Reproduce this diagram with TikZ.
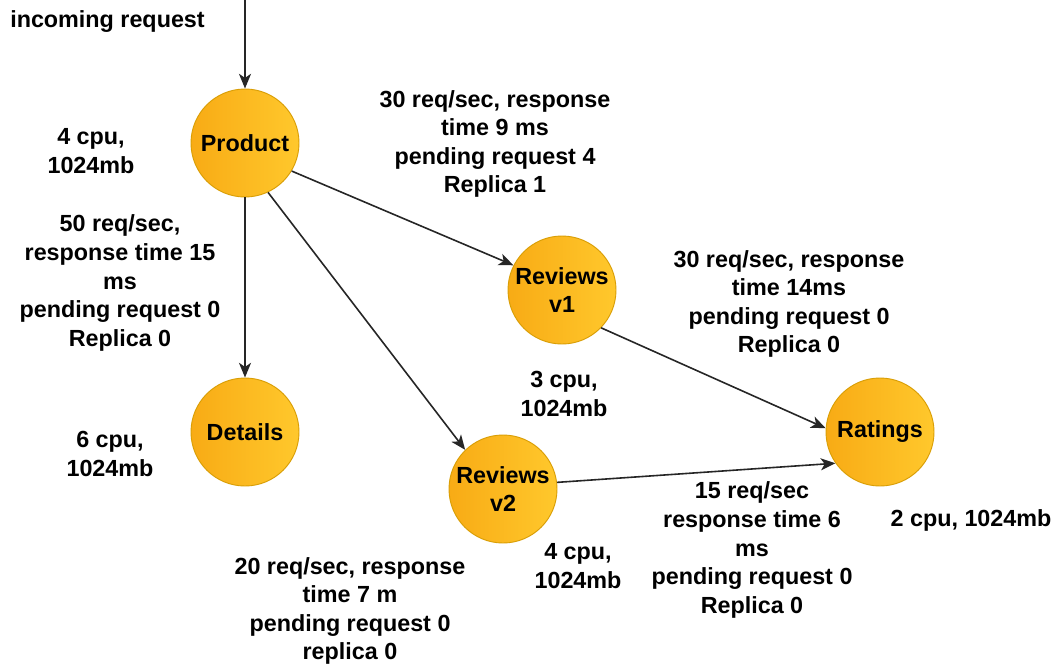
\documentclass[tikz,border=0pt]{standalone}
\usepackage{fontspec}
\setmainfont{Liberation Sans}
\usetikzlibrary{arrows.meta}
\definecolor{svcfillA}{HTML}{F8AB15}
\definecolor{svcfillB}{HTML}{FFC82C}
\definecolor{svcline}{HTML}{D99E05}
\begin{document}
\begin{tikzpicture}[x=0.75pt,y=-0.75pt,
  svc/.style={circle, minimum size=81pt, inner sep=0pt, draw=svcline, line width=0.7pt,
    left color=svcfillA, right color=svcfillB,
    font=\fontsize{17.5}{21}\selectfont\bfseries, align=center},
  lbl/.style={font=\fontsize{17.5}{21.4}\selectfont\bfseries, align=center, inner sep=0pt},
  flow/.style={-{Stealth[length=11pt,width=9pt,inset=3pt]}, line width=1.2pt, black!85}]
\useasboundingbox (0,0) rectangle (1056,664);

% services
\node[svc] (product) at (245,143) {Product};
\node[svc] (details) at (245,432) {Details};
\node[svc] (rv1) at (562,290) {Reviews\\v1};
\node[svc] (rv2) at (503,489) {Reviews\\v2};
\node[svc] (ratings) at (880,432) {Ratings};

% entry point
\coordinate (entry) at (245,0);
\node[lbl, anchor=west] (inlbl) at (10,22) {incoming request};

% calls between services
\draw[flow] (entry) -- (product.north);
\draw[flow] (product.south) -- (details.north);
\draw[flow] (product.-31) -- (rv1.153);
\draw[flow] (product.-65) -- (rv2.134);
\draw[flow] (rv1.-44) -- (ratings.176);
\draw[flow] (rv2.7) -- (ratings.-145);

% resource annotations
\node[lbl] (resprod) at (91,151) {4 cpu,\\1024mb};
\node[lbl] (resdet) at (110,454) {6 cpu,\\1024mb};
\node[lbl] (resrv1) at (564,394) {3 cpu,\\1024mb};
\node[lbl] (resrv2) at (578,566) {4 cpu,\\1024mb};
\node[lbl] (resrat) at (971,520) {2 cpu, 1024mb};

% traffic annotations
\node[lbl] (tdet) at (120,283) {50 req/sec,\\response time 15\\ms\\pending request 0\\Replica 0};
\node[lbl] (trv1) at (495,144) {30 req/sec, response\\time 9 ms\\pending request 4\\Replica 1};
\node[lbl] (trat1) at (789,304) {30 req/sec, response\\time 14ms\\pending request 0\\Replica 0};
\node[lbl] (trat2) at (752,550) {15 req/sec\\response time 6\\ms\\pending request 0\\Replica 0};
\node[lbl] (trv2) at (350,611) {20 req/sec, response\\time 7 m\\pending request 0\\replica 0};
\end{tikzpicture}
\end{document}
